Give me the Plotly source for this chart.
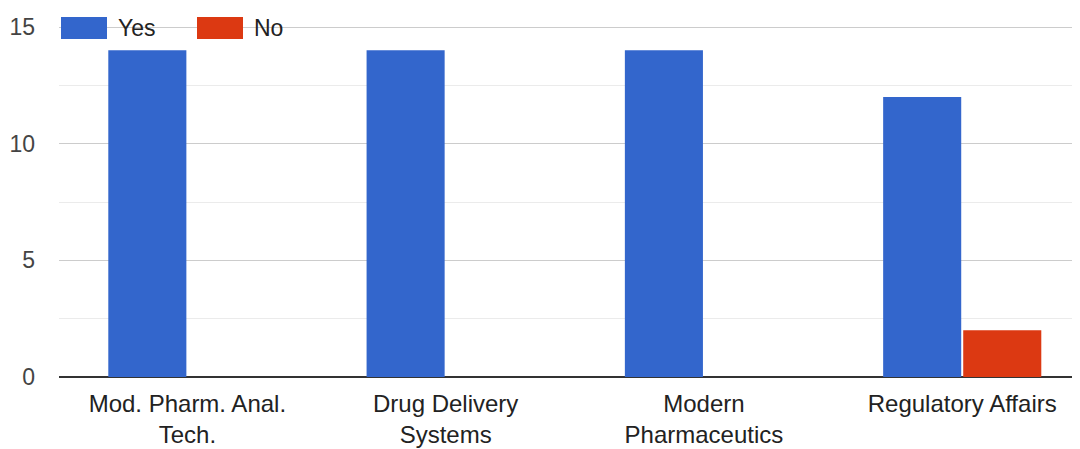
import plotly.graph_objects as go

categories = ["Mod. Pharm. Anal.<br>Tech.", "Drug Delivery<br>Systems",
              "Modern<br>Pharmaceutics", "Regulatory Affairs"]
series_names = ["Yes", "No"]
series_colors = ["#3366cc", "#dc3912"]
yes_values = [14, 14, 14, 12]
no_values = [0, 0, 0, 2]
y_ticks = [0, 5, 10, 15]

FONT = "Liberation Sans, Arial, sans-serif"
# the page body adds an 8px margin, so the figure is sized to fill the rest
OFF = 8
W, H = 1080 - OFF, 449 - OFF
ML, MT, MB = 59 - OFF, 25 - OFF, 72
PW, PH = W - ML, H - MT - MB


def px_x(p):
    return (p - OFF - ML) / PW


def px_y(p):
    return 1 - (p - OFF - MT) / PH


fig = go.Figure()
for name, color, vals in zip(series_names, series_colors, [yes_values, no_values]):
    fig.add_trace(go.Bar(name=name, x=categories, y=vals,
                         marker=dict(color=color, line=dict(width=0))))

# legend drawn as wide swatches like the original
legend_items = [(61, 107, 116), (197, 243, 252)]
for (x0, x1, tx), name, color in zip(legend_items, series_names, series_colors):
    fig.add_shape(type="rect", xref="paper", yref="paper",
                  x0=px_x(x0), x1=px_x(x1), y0=px_y(39), y1=px_y(17),
                  fillcolor=color, line=dict(width=0), layer="above")
    fig.add_annotation(text=name, xref="paper", yref="paper",
                       x=px_x(tx), y=px_y(28), xanchor="left", yanchor="middle",
                       showarrow=False, font=dict(size=23, color="#222222"))

fig.update_layout(
    width=W,
    height=H,
    barmode="group",
    bargap=0.38,
    bargroupgap=0.025,
    plot_bgcolor="white",
    paper_bgcolor="white",
    font=dict(family=FONT, size=23, color="#222222"),
    margin=dict(l=ML, r=0, t=MT, b=MB, autoexpand=False),
    showlegend=False,
    xaxis=dict(
        type="category",
        range=[-0.497, 3.456],
        showgrid=False,
        showline=False,
        zeroline=False,
        ticks="",
        ticklabelstandoff=10,
        tickfont=dict(size=24, color="#222222"),
        automargin=False,
        fixedrange=True,
    ),
    yaxis=dict(
        range=[0, 15.0857],
        tickvals=y_ticks,
        showgrid=True,
        gridcolor="#cccccc",
        gridwidth=1,
        zeroline=True,
        zerolinecolor="#333333",
        zerolinewidth=2,
        showline=False,
        ticks="",
        ticklabelstandoff=23,
        tickfont=dict(size=23, color="#444444"),
        minor=dict(dtick=2.5, showgrid=True, gridcolor="#ebebeb", gridwidth=1),
        automargin=False,
        fixedrange=True,
    ),
)

fig.write_html("out.html")
